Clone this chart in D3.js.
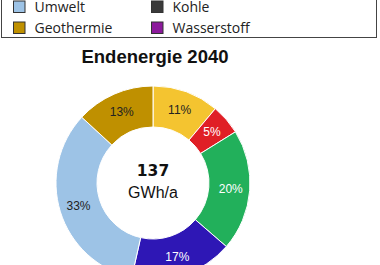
<!DOCTYPE html>
<html>
<head>
<meta charset="utf-8">
<script src="https://cdn.jsdelivr.net/npm/d3@7"></script>
<style>
  body { margin: 0; background: #fff; }
  svg { display: block; }
</style>
</head>
<body>
<svg width="380" height="265"></svg>
<script>
// slices, clockwise from 12 o'clock
var sliceNames = ["Solarthermie", "Heizöl", "Biomasse", "Strom", "Umwelt", "Geothermie"];
var sliceValues = [11, 5, 20, 17, 33, 13];
var sliceColors = ["#F4C430", "#E01F26", "#22B05B", "#2E17B5", "#9DC3E6", "#BF9000"];
var labelColors = ["#222", "#fff", "#fff", "#fff", "#222", "#222"];

var legendNames = ["Umwelt", "Kohle", "Geothermie", "Wasserstoff"];
var legendColors = ["#9DC3E6", "#3A3A3A", "#BF9000", "#8C1A9C"];

var title = "Endenergie 2040";
var total = "137";
var unit = "GWh/a";

var svg = d3.select("svg");

// legend box (top rows are out of view)
svg.append("rect")
    .attr("x", 1.5).attr("y", -40)
    .attr("width", 375).attr("height", 77.5)
    .attr("fill", "none")
    .attr("stroke", "#444").attr("stroke-width", 1);

var lg = svg.selectAll(".leg")
    .data(legendNames)
    .enter().append("g")
    .attr("class", "leg")
    .attr("transform", function (d, i) {
        return "translate(" + (i % 2 == 0 ? 13 : 151) + "," + (Math.floor(i / 2) * 21 + 0.5) + ")";
    });
lg.append("rect")
    .attr("x", 0.5).attr("y", 0.5)
    .attr("width", 11.5).attr("height", 11.5)
    .attr("fill", function (d, i) { return legendColors[i]; })
    .attr("stroke", "#333").attr("stroke-width", 1);
lg.append("text")
    .attr("x", 21.5).attr("y", 11)
    .attr("font-family", "Open Sans, sans-serif")
    .attr("font-size", 14)
    .attr("fill", "#222")
    .text(function (d) { return d; });

svg.append("text")
    .attr("x", 155).attr("y", 63)
    .attr("text-anchor", "middle")
    .attr("font-family", "Liberation Sans, Arial, sans-serif")
    .attr("font-weight", "bold")
    .attr("font-size", 18.5)
    .attr("fill", "#111")
    .text(title);

var cx = 153, cy = 183, rOut = 97, rIn = 56;
var g = svg.append("g").attr("transform", "translate(" + cx + "," + cy + ")");

var pie = d3.pie().sort(null).value(function (d) { return d; });
var arc = d3.arc().innerRadius(rIn).outerRadius(rOut);
var labelArc = d3.arc().innerRadius(78).outerRadius(78);
var arcs = pie(sliceValues);

g.selectAll(".slice")
    .data(arcs)
    .enter().append("path")
    .attr("class", "slice")
    .attr("d", arc)
    .attr("fill", function (d, i) { return sliceColors[i]; })
    .attr("stroke", "#fff").attr("stroke-width", 1);

g.selectAll(".lbl")
    .data(arcs)
    .enter().append("text")
    .attr("class", "lbl")
    .attr("transform", function (d) { return "translate(" + labelArc.centroid(d) + ")"; })
    .attr("dy", "0.35em")
    .attr("text-anchor", "middle")
    .attr("font-family", "Liberation Sans, Arial, sans-serif")
    .attr("font-size", 12)
    .attr("fill", function (d, i) { return labelColors[i]; })
    .text(function (d) { return d.data + "%"; });

g.append("text")
    .attr("y", -7)
    .attr("text-anchor", "middle")
    .attr("font-family", "DejaVu Sans, Verdana, sans-serif")
    .attr("font-weight", "bold")
    .attr("font-size", 15.5)
    .attr("fill", "#111")
    .text(total);
g.append("text")
    .attr("y", 15)
    .attr("text-anchor", "middle")
    .attr("font-family", "Liberation Sans, Arial, sans-serif")
    .attr("font-size", 16)
    .attr("fill", "#111")
    .text(unit);
</script>
</body>
</html>
